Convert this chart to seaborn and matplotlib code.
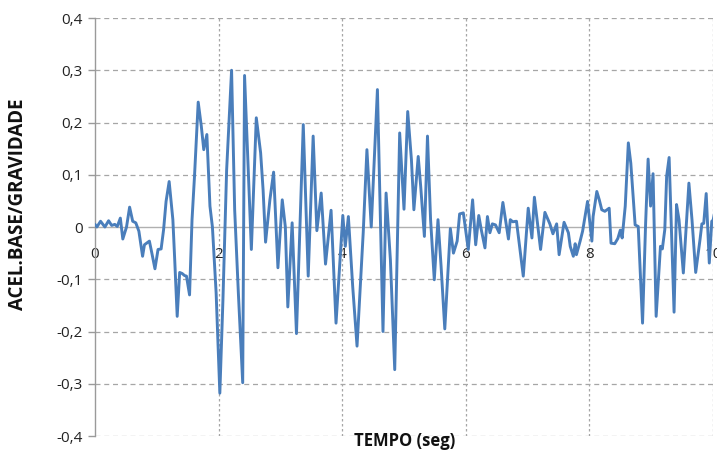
import matplotlib
matplotlib.use("Agg")
import matplotlib.pyplot as plt
import seaborn as sns
import pandas as pd
from matplotlib.ticker import FuncFormatter, FixedLocator

tempo = [0.00, 0.03, 0.09, 0.16, 0.22, 0.27, 0.32, 0.36, 0.41, 0.45,
         0.51, 0.56, 0.61, 0.66, 0.71, 0.74, 0.77, 0.80, 0.88, 0.92,
         0.97, 1.02, 1.07, 1.11, 1.15, 1.20, 1.26, 1.29, 1.33, 1.37,
         1.41, 1.45, 1.48, 1.53, 1.57, 1.61, 1.67, 1.72, 1.76, 1.81,
         1.86, 1.90, 1.96, 2.02, 2.07, 2.13, 2.21, 2.26, 2.32, 2.39,
         2.42, 2.53, 2.61, 2.68, 2.72, 2.76, 2.83, 2.89, 2.96, 3.03,
         3.08, 3.12, 3.19, 3.26, 3.37, 3.45, 3.53, 3.59, 3.66, 3.73,
         3.82, 3.90, 4.01, 4.05, 4.10, 4.17, 4.24, 4.34, 4.40, 4.47,
         4.57, 4.66, 4.71, 4.78, 4.85, 4.93, 5.00, 5.06, 5.12, 5.16,
         5.23, 5.27, 5.33, 5.38, 5.43, 5.49, 5.55, 5.60, 5.66, 5.75,
         5.80, 5.86, 5.90, 5.96, 6.04, 6.11, 6.16, 6.21, 6.25, 6.31,
         6.35, 6.39, 6.43, 6.48, 6.54, 6.60, 6.69, 6.72, 6.76, 6.82,
         6.87, 6.93, 7.01, 7.07, 7.11, 7.21, 7.28, 7.32, 7.36, 7.41,
         7.47, 7.51, 7.59, 7.66, 7.69, 7.74, 7.77, 7.79, 7.85, 7.89,
         7.93, 7.97, 8.04, 8.06, 8.12, 8.16, 8.20, 8.25, 8.32, 8.35,
         8.41, 8.46, 8.50, 8.53, 8.58, 8.63, 8.67, 8.74, 8.79, 8.86,
         8.91, 8.95, 8.99, 9.03, 9.08, 9.15, 9.18, 9.22, 9.25, 9.29,
         9.37, 9.41, 9.45, 9.52, 9.61, 9.66, 9.72, 9.79, 9.82, 9.85,
         9.89, 9.94, 9.98, 10.00, 10.03]

acel = [0.005, 0.000, 0.011, 0.000, 0.012, 0.003, 0.005, 0.001, 0.017, -0.023,
        0.000, 0.038, 0.011, 0.008, -0.008, -0.032, -0.056, -0.034, -0.027, -0.050,
        -0.080, -0.043, -0.042, -0.005, 0.049, 0.087, 0.014, -0.063, -0.171, -0.087,
        -0.089, -0.093, -0.094, -0.130, 0.014, 0.097, 0.239, 0.193, 0.148, 0.177,
        0.040, 0.000, -0.126, -0.318, -0.140, 0.109, 0.300, 0.033, -0.127, -0.298,
        0.290, -0.043, 0.209, 0.142, 0.071, -0.029, 0.052, 0.105, -0.078, 0.052,
        0.000, -0.153, 0.008, -0.204, 0.196, -0.094, 0.174, -0.007, 0.065, -0.071,
        0.032, -0.184, 0.022, -0.037, 0.020, -0.114, -0.228, -0.011, 0.148, 0.000,
        0.263, -0.200, 0.065, -0.063, -0.273, 0.180, 0.034, 0.221, 0.129, 0.033,
        0.135, 0.078, -0.018, 0.174, 0.014, -0.101, 0.014, -0.075, -0.195, -0.003,
        -0.050, -0.027, 0.025, 0.027, -0.043, 0.052, -0.034, 0.022, -0.005, -0.040,
        0.020, -0.011, 0.006, 0.004, -0.011, 0.047, -0.023, 0.014, 0.010, 0.011,
        -0.037, -0.094, 0.036, -0.021, 0.057, -0.043, 0.028, 0.017, 0.006, -0.013,
        0.006, -0.053, 0.009, -0.011, -0.037, -0.056, -0.032, -0.053, -0.027, -0.008,
        0.020, 0.049, -0.027, 0.020, 0.068, 0.052, 0.033, 0.030, 0.036, -0.031,
        -0.032, -0.022, -0.006, -0.021, 0.040, 0.161, 0.122, 0.004, 0.001, -0.184,
        0.008, 0.130, 0.040, 0.102, -0.171, -0.037, -0.042, -0.005, 0.097, 0.133,
        -0.163, 0.043, 0.014, -0.088, 0.084, 0.014, -0.087, -0.024, 0.006, 0.007,
        0.064, -0.069, 0.011, 0.012, 0.030]

x_ticks = [0, 2, 4, 6, 8, 10]
x_tick_labels = ["0", "2", "4", "6", "8", "10"]
y_ticks = [-0.4, -0.3, -0.2, -0.1, 0.0, 0.1, 0.2, 0.3, 0.4]

df = pd.DataFrame({"tempo": tempo, "acel": acel})

sns.set_style("white")
plt.rcParams["font.family"] = ["Open Sans", "DejaVu Sans"]

fig = plt.figure(figsize=(7.17, 4.51), dpi=100)
ax = fig.add_axes([95 / 717, 1 - 436 / 451, (713 - 95) / 717, (436 - 18) / 451])

grid_c = "#a6a6a6"
for yv in y_ticks:
    if abs(yv) > 1e-9:
        ax.axhline(yv, color=grid_c, lw=0.9, ls=(0, (4, 3)), zorder=1)
for xv in x_ticks[1:]:
    ax.axvline(xv, color=grid_c, lw=0.9, ls=(0, (2, 2)), zorder=1)

sns.lineplot(data=df, x="tempo", y="acel", ax=ax, color="#4a7ebb",
             linewidth=2.1, sort=False, estimator=None, zorder=3)

ax.set_xlim(0, 10)
ax.set_ylim(-0.4, 0.4)

for s in ["top", "right"]:
    ax.spines[s].set_visible(False)
ax.spines["left"].set_color("#9a9a9a")
ax.spines["left"].set_linewidth(1.0)
ax.spines["bottom"].set_position(("data", 0))
ax.spines["bottom"].set_color("#b0b0b0")
ax.spines["bottom"].set_linewidth(1.0)
ax.spines["bottom"].set_zorder(2)

ax.yaxis.set_major_locator(FixedLocator(y_ticks))
ax.yaxis.set_major_formatter(FuncFormatter(
    lambda v, p: "0" if abs(v) < 1e-9 else f"{v:.1f}".replace(".", ",")))
ax.tick_params(axis="y", direction="out", length=5, width=1.0, color="#9a9a9a",
               labelsize=11, labelcolor="#222222", pad=4, left=True)

ax.set_xticks(x_ticks)
ax.set_xticklabels(x_tick_labels)
ax.tick_params(axis="x", length=0, labelsize=11, labelcolor="#222222", pad=14.5, bottom=True)

ax.set_xlabel("")
ax.set_ylabel("")
fig.text(405 / 717, 1 - 441 / 451, "TEMPO (seg)", ha="center", va="center",
         fontsize=12, fontweight="bold", color="#111111")
fig.text(18 / 717, 1 - 204 / 451, "ACEL.BASE/GRAVIDADE", ha="center", va="center",
         rotation=90, fontsize=13.5, fontweight="bold", color="#111111")

fig.savefig("out.png", dpi=100)
